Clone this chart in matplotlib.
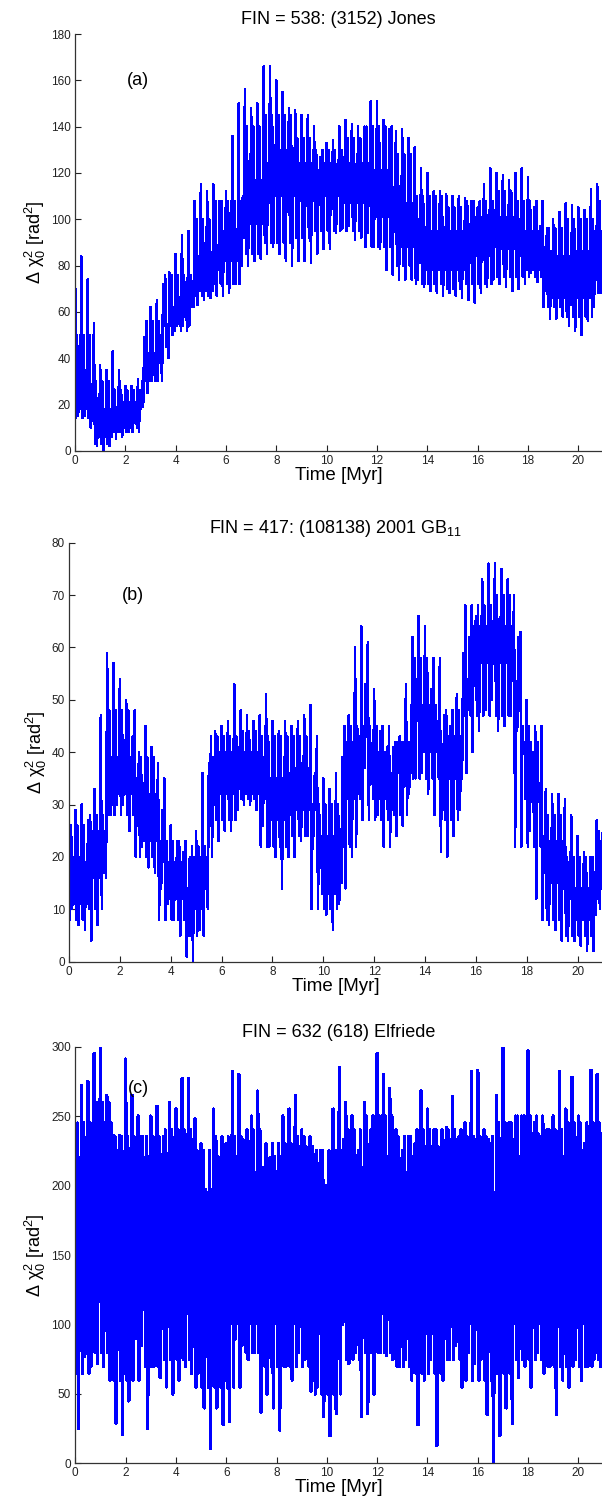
"""Delta chi^2 time series for three asteroids (three stacked panels)."""

import numpy as np
import matplotlib.pyplot as plt

plt.rcParams['font.family'] = ['Liberation Sans', 'DejaVu Sans']
plt.rcParams['mathtext.fontset'] = 'custom'
plt.rcParams['mathtext.rm'] = 'Liberation Sans'
plt.rcParams['mathtext.it'] = 'Liberation Sans'

STEP = 0.25      # Myr between readings of the spike extremes
CORE_STEP = 0.5  # Myr between readings of the dense band
MID_STEP = 1.0   # Myr between readings of the usual spike height

# panel (a): (3152) Jones
A_TOP = [86, 84, 74, 55, 37, 35, 43, 35, 28, 28, 31, 49, 62, 65, 72, 77, 85,
         93, 95, 108, 115, 112, 115, 108, 112, 136, 150, 156, 148, 150, 166,
         166, 160, 155, 148, 147, 145, 145, 140, 127, 133, 134, 140, 143, 141,
         140, 140, 151, 151, 143, 139, 138, 139, 135, 131, 122, 120, 112, 112,
         111, 110, 110, 109, 108, 105, 115, 122, 120, 119, 117, 120, 122, 118,
         105, 97, 96, 100, 103, 107, 106, 105, 104, 113, 115, 115]
A_BOT = [15, 15, 10, 2, 0, 2, 5, 6, 8, 12, 18, 25, 33, 38, 45, 50, 55, 58, 62,
         63, 65, 66, 67, 67, 68, 72, 80, 80, 82, 83, 85, 88, 85, 82, 80, 82,
         82, 81, 85, 87, 87, 94, 96, 97, 91, 92, 94, 88, 87, 78, 76, 74, 74,
         74, 74, 71, 69, 68, 67, 68, 67, 66, 65, 64, 68, 71, 74, 72, 71, 69,
         70, 72, 77, 73, 62, 57, 57, 58, 54, 52, 50, 56, 62, 68, 71]
A_MID_HI = [50, 30, 26, 56, 76, 100, 108, 140, 145, 135, 130, 135, 140, 128,
            110, 105, 108, 112, 108, 96, 100, 108]
A_MID_LO = [14, 3, 8, 30, 54, 67, 72, 85, 90, 92, 95, 95, 88, 80, 72, 70, 72,
            75, 75, 62, 58, 68]
A_CORE_LO = [18, 13, 6, 8, 10, 19, 30, 40, 52, 62, 69, 78, 82, 92, 98, 107,
             110, 110, 108, 106, 110, 107, 107, 106, 101, 95, 88, 81, 78, 78,
             78, 81, 84, 88, 87, 84, 78, 69, 66, 63, 66, 74, 78]
A_CORE_HI = [35, 25, 18, 19, 21, 30, 42, 52, 62, 72, 84, 89, 95, 110, 117,
             124, 130, 127, 124, 121, 124, 127, 124, 124, 121, 114, 107, 100,
             95, 95, 95, 98, 101, 104, 101, 100, 95, 88, 84, 84, 86, 95, 95]

# panel (b): (108138) 2001 GB11
B_TOP = [31, 29, 30, 27, 33, 47, 59, 57, 54, 50, 43, 40, 45, 41, 38, 35, 26,
         23, 21, 20, 25, 36, 38, 44, 45, 46, 53, 48, 47, 46, 47, 51, 46, 44,
         46, 45, 46, 47, 49, 43, 35, 33, 36, 39, 47, 60, 64, 61, 52, 44, 41,
         41, 43, 53, 62, 66, 64, 52, 46, 47, 45, 51, 59, 62, 66, 73, 76, 76,
         75, 73, 70, 63, 50, 40, 34, 33, 32, 32, 31, 28, 24, 21, 20, 27, 28]
B_BOT = [10, 7, 6, 4, 7, 17, 28, 30, 30, 25, 20, 22, 18, 17, 14, 11, 8, 5, 1,
         0, 6, 14, 20, 23, 25, 25, 29, 30, 30, 29, 26, 22, 20, 14, 20, 20, 23,
         24, 24, 19, 9, 6, 11, 14, 20, 32, 37, 35, 28, 22, 22, 24, 26, 32, 35,
         36, 32, 28, 21, 20, 24, 29, 36, 40, 44, 48, 50, 44, 45, 47, 44, 40,
         25, 12, 8, 7, 6, 4, 4, 4, 3, 2, 2, 10, 14]
B_MID_HI = [26, 28, 48, 39, 23, 22, 43, 44, 43, 43, 30, 45, 45, 42, 58, 48,
            68, 70, 45, 28, 20, 25]
B_MID_LO = [8, 10, 28, 20, 8, 5, 27, 31, 22, 24, 10, 22, 27, 28, 35, 27, 47,
            47, 22, 8, 5, 12]
B_CORE_LO = [11, 11, 16, 30, 32, 26, 23, 19, 12, 5, 10, 30, 32, 33, 32, 31,
             27, 28, 29, 29, 13, 15, 31, 43, 31, 29, 36, 46, 40, 29, 35, 48,
             57, 59, 57, 51, 31, 17, 15, 12, 8, 9, 14]
B_CORE_HI = [20, 19, 25, 39, 39, 35, 32, 29, 19, 14, 20, 39, 40, 41, 40, 39,
             35, 36, 37, 36, 24, 23, 42, 53, 40, 36, 42, 54, 49, 40, 43, 54,
             64, 65, 64, 62, 42, 24, 23, 19, 14, 17, 23]

# panel (c): (618) Elfriede
C_TOP = [235, 272, 275, 295, 300, 265, 236, 236, 291, 265, 250, 220, 250, 257,
         235, 260, 255, 277, 277, 248, 230, 195, 255, 185, 230, 282, 280, 225,
         250, 268, 213, 220, 210, 250, 255, 265, 240, 215, 222, 225, 200, 255,
         285, 260, 250, 225, 260, 240, 295, 280, 270, 240, 225, 235, 230, 268,
         255, 240, 225, 242, 264, 235, 245, 282, 283, 240, 230, 265, 300, 245,
         250, 250, 297, 245, 235, 240, 250, 282, 255, 278, 250, 230, 283, 280,
         280]
C_BOT = [25, 77, 70, 72, 70, 60, 29, 21, 45, 90, 85, 25, 70, 62, 55, 50, 60,
         70, 65, 65, 40, 11, 40, 28, 30, 90, 85, 75, 80, 37, 50, 40, 24, 70,
         60, 80, 75, 52, 55, 34, 20, 36, 100, 72, 80, 34, 36, 50, 80, 78, 75,
         70, 75, 60, 28, 60, 75, 13, 60, 75, 85, 55, 80, 72, 75, 35, 0, 20, 40,
         29, 62, 70, 55, 80, 65, 70, 35, 60, 55, 75, 60, 70, 75, 70, 70]
C_MID_HI = [245, 260, 235, 235, 240, 225, 235, 240, 230, 235, 225, 240, 250,
            235, 240, 240, 235, 245, 250, 240, 245, 245]
C_MID_LO = [65, 80, 60, 70, 75, 55, 55, 80, 70, 70, 50, 75, 80, 70, 65, 75,
            60, 65, 75, 70, 70, 75]
C_CORE_LO = [90, 113, 117, 94, 101, 125, 101, 105, 108, 108, 90, 76, 101, 112,
             101, 90, 101, 101, 99, 94, 76, 102, 106, 90, 108, 94, 90, 94, 94,
             90, 99, 101, 101, 65, 101, 90, 101, 90, 99, 97, 106, 99, 106]
C_CORE_HI = [220, 238, 245, 225, 180, 235, 221, 223, 228, 233, 197, 221, 221,
             233, 209, 202, 221, 225, 228, 216, 197, 233, 209, 204, 221, 237,
             209, 204, 228, 214, 233, 225, 233, 185, 233, 221, 237, 214, 221,
             216, 225, 228, 237]

TITLES = ['FIN = 538: (3152) Jones',
          'FIN = 417: (108138) 2001 GB$_{11}$',
          'FIN = 632 (618) Elfriede']
TAGS = ['(a)', '(b)', '(c)']
YMAX = [180, 80, 300]
YSTEP = [20, 10, 50]
TAG_Y = [160, 70, 270]
LWS = [1.1, 1.1, 1.8]

# axes boxes in figure fractions: left, bottom, width, height
BOXES = [[0.1246, 0.7005, 0.8754, 0.2769],
         [0.1146, 0.3610, 0.8854, 0.2784],
         [0.1251, 0.0277, 0.8749, 0.2768]]
XMAX = [20.94, 20.96, 20.94]

BLUE = (0.0, 0.0, 1.0)


def _trace(top, bot, mhi, mlo, chi, clo):
    """Chain the readings of each bin into one oscillating line."""
    nbin = len(top)
    tim = np.arange(nbin) * STEP
    i_mid = np.rint(tim / MID_STEP).astype(int)
    i_core = np.rint(tim / CORE_STEP).astype(int)
    order = [top, np.asarray(mlo)[i_mid], np.asarray(mhi)[i_mid], bot,
             np.asarray(chi)[i_core], np.asarray(clo)[i_core]]
    nv = len(order)
    t_out = np.empty(nv * nbin)
    y_out = np.empty(nv * nbin)
    for j, vals in enumerate(order):
        t_out[j::nv] = tim + j * STEP / nv
        y_out[j::nv] = vals
    return t_out, y_out


def run():
    fig = plt.figure(figsize=(6.02, 15.05), dpi=100)
    series = [(A_TOP, A_BOT, A_MID_HI, A_MID_LO, A_CORE_HI, A_CORE_LO),
              (B_TOP, B_BOT, B_MID_HI, B_MID_LO, B_CORE_HI, B_CORE_LO),
              (C_TOP, C_BOT, C_MID_HI, C_MID_LO, C_CORE_HI, C_CORE_LO)]
    for idx, readings in enumerate(series):
        ax = fig.add_axes(BOXES[idx])
        tim, val = _trace(*readings)
        ax.plot(tim, val, color=BLUE, lw=LWS[idx], antialiased=False)

        ax.set_xlim(0, XMAX[idx])
        ax.set_ylim(0, YMAX[idx])
        ax.set_xticks(np.arange(0, 21, 2))
        ax.set_yticks(np.arange(0, YMAX[idx] + 1, YSTEP[idx]))
        ax.tick_params(direction='in', length=4, width=0.8, labelsize=8.5,
                       colors='#222222', pad=3)
        for side in ('top', 'right'):
            ax.spines[side].set_visible(False)
        for side in ('left', 'bottom'):
            ax.spines[side].set_color('#333333')
            ax.spines[side].set_linewidth(0.9)

        ax.set_title(TITLES[idx], fontsize=13, pad=7)
        ax.set_xlabel('Time [Myr]', fontsize=13.5, labelpad=0)
        ax.set_ylabel(r'Δ χ$_0^2$ [rad$^2$]', fontsize=13, labelpad=2)
        ax.text(2.5, TAG_Y[idx], TAGS[idx], fontsize=13, ha='center',
                va='center')

    fig.savefig('out.png', dpi=100)


if __name__ == "__main__":
    run()
